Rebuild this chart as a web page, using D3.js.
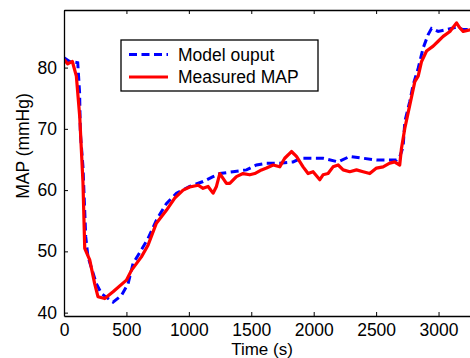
<!DOCTYPE html>
<html>
<head>
<meta charset="utf-8">
<script src="https://cdn.jsdelivr.net/npm/d3@7"></script>
<style>
body { margin: 0; background: #fff; }
text { font-family: "Liberation Sans", Arial, sans-serif; fill: #000; }
</style>
</head>
<body>
<div id="chart"></div>
<script>
// model output (dashed blue)
var modelTime = [0, 45, 110, 125, 131, 152, 174, 192, 260, 300, 393, 460, 513, 553, 633, 673, 740, 820, 901, 1007,
  1114, 1194, 1248, 1354, 1462, 1542, 1622, 1728, 1835, 1900, 2075, 2196, 2289, 2503, 2663, 2690, 2716, 2730,
  2770, 2797, 2837, 2877, 2917, 2944, 2997, 3064, 3144, 3197, 3260];
var modelMap = [81.6, 81.0, 80.8, 75.9, 69.3, 63.8, 52.4, 49.1, 44.7, 43.1, 41.7, 42.8, 44.7, 48.0, 50.7, 52.1, 55.1, 57.8, 59.5, 60.6,
  61.4, 62.2, 62.7, 63.0, 63.3, 64.1, 64.4, 64.4, 64.6, 65.2, 65.2, 64.6, 65.5, 64.9, 64.9, 65.5, 67.0, 71.2,
  74.5, 77.2, 79.9, 83.2, 85.4, 86.4, 85.9, 86.2, 86.6, 86.2, 86.2];

// measured MAP (solid red)
var measTime = [0, 30, 67, 99, 126, 139, 152, 166, 206, 246, 272, 326, 393, 500, 540, 620, 673, 740, 820, 887,
  954, 1007, 1074, 1114, 1154, 1194, 1221, 1248, 1274, 1301, 1328, 1381, 1434, 1488, 1528, 1582, 1622, 1675,
  1728, 1768, 1822, 1862, 1915, 1955, 1995, 2049, 2075, 2115, 2155, 2196, 2236, 2289, 2343, 2396, 2449, 2503,
  2556, 2609, 2649, 2663, 2689, 2703, 2730, 2770, 2810, 2837, 2864, 2904, 2957, 2997, 3037, 3091, 3144, 3170,
  3197, 3260];
var measMap = [81.3, 80.6, 81.0, 78.6, 72.0, 66.6, 61.2, 50.5, 48.6, 44.7, 42.6, 42.3, 43.4, 45.3, 46.9, 49.1, 51.0, 54.6, 56.7, 58.7,
  60.0, 60.5, 60.8, 60.3, 60.6, 59.5, 60.6, 62.7, 61.9, 61.1, 61.1, 62.2, 62.7, 62.5, 62.7, 63.3, 63.6, 64.1,
  63.8, 65.2, 66.3, 65.5, 63.8, 62.7, 63.0, 61.7, 62.5, 62.7, 63.8, 64.1, 63.3, 63.0, 63.3, 63.0, 62.7, 63.6,
  63.8, 64.4, 64.6, 64.4, 64.1, 66.8, 70.1, 73.9, 77.7, 78.6, 81.0, 82.7, 83.5, 84.3, 85.1, 85.9, 87.3, 86.5,
  85.9, 86.2];

var xTicks = [0, 500, 1000, 1500, 2000, 2500, 3000];
var yTicks = [40, 50, 60, 70, 80];
var seriesNames = ["Model ouput", "Measured MAP"];

var W = 470, H = 358;
var margin = {top: 10, right: -1, bottom: 42, left: 64};
var width = W - margin.left - margin.right,
    height = H - margin.top - margin.bottom;

var svg = d3.select("#chart").append("svg")
    .attr("width", W).attr("height", H)
    .append("g")
    .attr("transform", "translate(" + margin.left + "," + margin.top + ")");

var x = d3.scaleLinear().domain([0, 3260]).range([0, width]);
var y = d3.scaleLinear().domain([39.45, 89.4]).range([height, 0]);

// lines
var model = modelTime.map(function(t, i) { return [t, modelMap[i]]; });
var meas = measTime.map(function(t, i) { return [t, measMap[i]]; });
var line = d3.line().x(function(d) { return x(d[0]); }).y(function(d) { return y(d[1]); });

svg.append("clipPath").attr("id", "clip")
    .append("rect").attr("width", width).attr("height", height);

var plot = svg.append("g").attr("clip-path", "url(#clip)");
plot.append("path").datum(model)
    .attr("d", line).attr("fill", "none")
    .attr("stroke", "#0000ff").attr("stroke-width", 3)
    .attr("stroke-dasharray", "8,4.5");
plot.append("path").datum(meas)
    .attr("d", line).attr("fill", "none")
    .attr("stroke", "#ff0000").attr("stroke-width", 3.2)
    .attr("stroke-linejoin", "round");

// axes, ticks pointing inward
var fs = "17.5px";
var gx = svg.append("g").attr("transform", "translate(0," + height + ")")
    .call(d3.axisBottom(x).tickValues(xTicks).tickFormat(d3.format("d"))
      .tickSizeInner(-4).tickSizeOuter(0).tickPadding(8));
var gy = svg.append("g")
    .call(d3.axisLeft(y).tickValues(yTicks).tickSizeInner(-4).tickSizeOuter(0).tickPadding(7));
var gt = svg.append("g")
    .call(d3.axisTop(x).tickValues(xTicks).tickSizeInner(-4).tickSizeOuter(0).tickFormat(""));
[gx, gy, gt].forEach(function(g) {
  g.selectAll("path").attr("stroke", "#000").attr("stroke-width", 1.3);
  g.selectAll("line").attr("stroke", "#000");
  g.selectAll("text").style("font-size", fs).attr("fill", "#000")
    .style("font-family", "'Liberation Sans', Arial, sans-serif");
});

// axis labels
svg.append("text")
    .attr("x", 262 - margin.left).attr("y", 355 - margin.top)
    .attr("text-anchor", "middle").style("font-size", "17px")
    .text("Time (s)");
svg.append("text")
    .attr("transform", "translate(" + (29 - margin.left) + "," + (146 - margin.top) + ") rotate(-90)")
    .attr("text-anchor", "middle").style("font-size", fs)
    .text("MAP (mmHg)");

// legend
var lg = svg.append("g").attr("transform", "translate(" + (121 - margin.left) + "," + (40 - margin.top) + ")");
lg.append("rect").attr("width", 197).attr("height", 51)
    .attr("fill", "#fff").attr("stroke", "#000").attr("stroke-width", 1.3);
var rows = [{dy: 14.5, c: "#0000ff", dash: "8,4.5"}, {dy: 37, c: "#ff0000", dash: null}];
rows.forEach(function(r, i) {
  lg.append("line").attr("x1", 8).attr("x2", 47).attr("y1", r.dy).attr("y2", r.dy)
    .attr("stroke", r.c).attr("stroke-width", 3).attr("stroke-dasharray", r.dash);
  lg.append("text").attr("x", 57).attr("y", r.dy).attr("dy", "0.35em")
    .style("font-size", fs).text(seriesNames[i]);
});
</script>
</body>
</html>
